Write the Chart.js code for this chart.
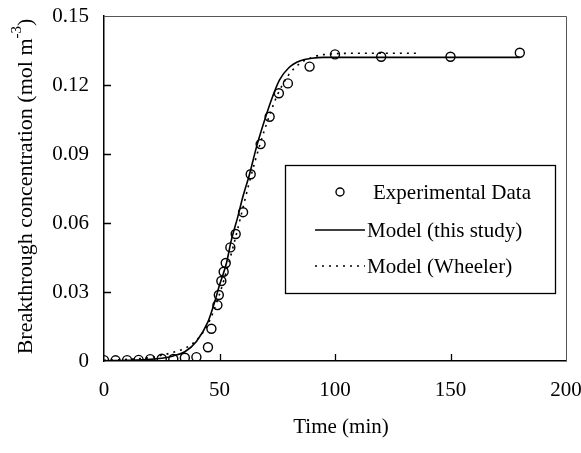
<!DOCTYPE html>
<html>
<head>
<meta charset="utf-8">
<script src="https://cdn.jsdelivr.net/npm/chart.js@4.4.1/dist/chart.umd.min.js"></script>
<style>
html,body{margin:0;padding:0;background:#fff;}
#wrap{width:581px;height:453px;position:relative;}
</style>
</head>
<body>
<div id="wrap"><canvas id="c" width="581" height="453"></canvas></div>
<script>
// ---- data ----
const expTime = [0,5,10,15,20,25,30,35,40,45,46.5,49.1,49.7,50.8,51.8,52.7,54.7,57,60.2,63.5,67.8,71.7,75.7,79.6,89,100,120,150,180];
const expConc = [0.0004,0.0003,0.0004,0.0005,0.0008,0.001,0.0009,0.0014,0.0017,0.006,0.014,0.0243,0.0287,0.0348,0.0388,0.0426,0.0494,0.0552,0.0647,0.0812,0.0943,0.1062,0.1164,0.1207,0.128,0.1333,0.1323,0.1323,0.134];

const modelTime = [0,10,20,25,30,35,40,45,48,50,53,55,58,60,63,66,70,73,76,80,85,90,95,100,120,150,180];
const modelConc = [0.0001,0.0003,0.0007,0.0012,0.0022,0.004,0.0085,0.017,0.026,0.033,0.0425,0.052,0.063,0.071,0.0812,0.093,0.1062,0.115,0.1222,0.1275,0.1305,0.1316,0.132,0.132,0.132,0.132,0.132];

const wheelerTime = [0,10,15,20,25,30,35,40,45,50,53,56,60,63,66,70,75,80,85,90,95,100,110,120,135];
const wheelerConc = [0.0003,0.0007,0.001,0.0015,0.0025,0.0038,0.0055,0.009,0.016,0.029,0.039,0.05,0.066,0.078,0.089,0.102,0.1155,0.1245,0.1295,0.132,0.1332,0.1336,0.1338,0.1338,0.1338];

const xTicks = [0,50,100,150,200];
const xTickLabels = ['0','50','100','150','200'];
const yTicks = [0,0.03,0.06,0.09,0.12,0.15];
const yTickLabels = ['0','0.03','0.06','0.09','0.12','0.15'];

const seriesNames = ['Experimental Data','Model (this study)','Model (Wheeler)'];
const xTitle = 'Time (min)';
const yTitleMain = 'Breakthrough concentration (mol m';
const yTitleSup = '-3';
const yTitleEnd = ')';

const FONT = '"Liberation Serif", "Times New Roman", serif';
const zip = (xs, ys) => xs.map((x, i) => ({x: x, y: ys[i]}));
const noPad = s => { s.paddingTop = 0; s.paddingBottom = 0; s.paddingLeft = 0; s.paddingRight = 0; };

const framePlugin = {
  id: 'frame',
  afterDatasetsDraw(chart) {
    const ctx = chart.ctx;
    const a = chart.chartArea;
    const xs = chart.scales.x, ys = chart.scales.y;
    ctx.save();
    // top and right frame
    ctx.strokeStyle = '#555';
    ctx.lineWidth = 1;
    ctx.beginPath();
    ctx.moveTo(a.left, a.top + 0.5);
    ctx.lineTo(a.right + 0.5, a.top + 0.5);
    ctx.lineTo(a.right + 0.5, a.bottom);
    ctx.stroke();
    // inward ticks
    ctx.strokeStyle = '#000';
    ctx.lineWidth = 1.3;
    ctx.beginPath();
    xTicks.forEach(v => {
      if (v <= xs.min || v >= xs.max) return;
      const px = Math.round(xs.getPixelForValue(v)) + 0.5;
      ctx.moveTo(px, a.bottom);
      ctx.lineTo(px, a.bottom - 7);
    });
    yTicks.forEach(v => {
      if (v <= ys.min || v >= ys.max) return;
      const py = Math.round(ys.getPixelForValue(v)) + 0.5;
      ctx.moveTo(a.left, py);
      ctx.lineTo(a.left + 7, py);
    });
    ctx.stroke();

    // legend box
    const bx = a.left + 181, by = a.top + 149, bw = 270, bh = 128;
    ctx.fillStyle = '#fff';
    ctx.fillRect(bx, by, bw, bh);
    ctx.strokeStyle = '#000';
    ctx.lineWidth = 1.3;
    ctx.strokeRect(bx + 0.5, by + 0.5, bw, bh);
    const ds = chart.data.datasets;
    ctx.font = '21px ' + FONT;
    ctx.fillStyle = '#000';
    ctx.textBaseline = 'middle';
    ctx.textAlign = 'left';
    const rows = [by + 27, by + 65, by + 101];
    ctx.beginPath();
    ctx.lineWidth = ds[0].borderWidth;
    ctx.strokeStyle = ds[0].borderColor;
    ctx.arc(bx + 55, rows[0], ds[0].pointRadius - 0.5, 0, Math.PI * 2);
    ctx.stroke();
    ctx.beginPath();
    ctx.lineWidth = ds[1].borderWidth;
    ctx.strokeStyle = ds[1].borderColor;
    ctx.moveTo(bx + 30, rows[1]);
    ctx.lineTo(bx + 80, rows[1]);
    ctx.stroke();
    ctx.beginPath();
    ctx.setLineDash(ds[2].borderDash);
    ctx.lineWidth = ds[2].borderWidth;
    ctx.strokeStyle = ds[2].borderColor;
    ctx.moveTo(bx + 30, rows[2]);
    ctx.lineTo(bx + 80, rows[2]);
    ctx.stroke();
    ctx.setLineDash([]);
    ctx.fillText(seriesNames[0], bx + 88, rows[0] + 1);
    ctx.fillText(seriesNames[1], bx + 82, rows[1] + 1);
    ctx.fillText(seriesNames[2], bx + 82, rows[2] + 1);

    // y axis title with superscript
    const fMain = '22px ' + FONT, fSup = '15px ' + FONT;
    ctx.font = fMain;
    const w1 = ctx.measureText(yTitleMain).width;
    const w3 = ctx.measureText(yTitleEnd).width;
    ctx.font = fSup;
    const w2 = ctx.measureText(yTitleSup).width;
    const total = w1 + w2 + w3;
    const cy = (a.top + a.bottom) / 2 - 2;
    ctx.translate(26, cy);
    ctx.rotate(-Math.PI / 2);
    ctx.textBaseline = 'middle';
    ctx.textAlign = 'left';
    let x0 = -total / 2;
    ctx.font = fMain;
    ctx.fillText(yTitleMain, x0, 0);
    ctx.font = fSup;
    ctx.fillText(yTitleSup, x0 + w1, -9);
    ctx.font = fMain;
    ctx.fillText(yTitleEnd, x0 + w1 + w2, 0);
    ctx.restore();

    // x axis title
    ctx.save();
    ctx.font = '21px ' + FONT;
    ctx.fillStyle = '#000';
    ctx.textAlign = 'center';
    ctx.textBaseline = 'middle';
    ctx.fillText(xTitle, (a.left + a.right) / 2 + 6, a.bottom + 66);
    ctx.restore();
  }
};

new Chart(document.getElementById('c'), {
  type: 'line',
  data: {
    datasets: [
      {
        label: seriesNames[0],
        data: zip(expTime, expConc),
        showLine: false,
        pointRadius: 4.5,
        pointBorderWidth: 1.4,
        borderWidth: 1.4,
        pointBackgroundColor: 'rgba(0,0,0,0)',
        pointBorderColor: '#000',
        borderColor: '#000',
        order: 0
      },
      {
        label: seriesNames[1],
        data: zip(modelTime, modelConc),
        borderColor: '#000',
        borderWidth: 1.6,
        pointRadius: 0,
        cubicInterpolationMode: 'monotone',
        fill: false,
        order: 1
      },
      {
        label: seriesNames[2],
        data: zip(wheelerTime, wheelerConc),
        borderColor: '#000',
        borderWidth: 1.6,
        borderDash: [2, 5],
        pointRadius: 0,
        cubicInterpolationMode: 'monotone',
        fill: false,
        order: 2
      }
    ]
  },
  options: {
    responsive: false,
    animation: false,
    events: [],
    layout: { padding: { left: 0, right: 15, top: 16, bottom: 0 } },
    plugins: { legend: { display: false }, tooltip: { enabled: false } },
    scales: {
      x: {
        type: 'linear',
        min: 0, max: 200,
        afterFit: s => { s.height = 92; noPad(s); },
        afterBuildTicks: s => { s.ticks = xTicks.map(v => ({value: v})); },
        ticks: {
          callback: (v, i) => xTickLabels[i],
          color: '#000',
          font: { family: FONT, size: 21 },
          padding: 17,
          maxRotation: 0,
          autoSkip: false
        },
        grid: { display: false, drawTicks: false },
        border: { display: true, color: '#000', width: 1.5 }
      },
      y: {
        type: 'linear',
        min: 0, max: 0.15,
        afterFit: s => { s.width = 104; noPad(s); },
        afterBuildTicks: s => { s.ticks = yTicks.map(v => ({value: v})); },
        ticks: {
          callback: (v, i) => yTickLabels[i],
          color: '#000',
          font: { family: FONT, size: 21 },
          padding: 15,
          autoSkip: false
        },
        grid: { display: false, drawTicks: false },
        border: { display: true, color: '#000', width: 1.5 }
      }
    }
  },
  plugins: [framePlugin]
});
</script>
</body>
</html>
